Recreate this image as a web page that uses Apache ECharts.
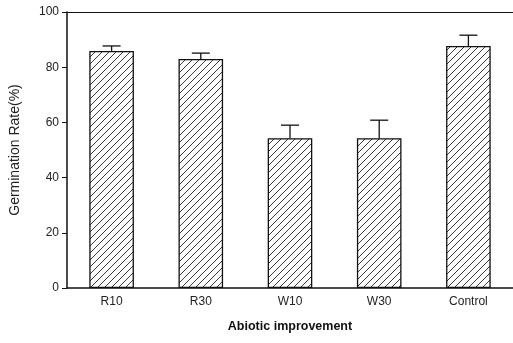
<!DOCTYPE html>
<html><head><meta charset="utf-8">
<script src="https://cdn.jsdelivr.net/npm/echarts@6/dist/echarts.min.js"></script>
<style>html,body{margin:0;padding:0;background:#fff}#c{width:513px;height:343px}</style>
</head><body><div id="c"></div>
<script>
var categories = ['R10', 'R30', 'W10', 'W30', 'Control'];
var rates = [85.9, 83.0, 54.3, 54.3, 87.7];
var errors = [1.8, 2.1, 4.7, 6.5, 3.9];
var yTicks = [0, 20, 40, 60, 80, 100];

function hatch() {
  var c = document.createElement('canvas');
  c.width = 7; c.height = 7;
  var g = c.getContext('2d');
  g.fillStyle = '#fff'; g.fillRect(0, 0, 7, 7);
  g.strokeStyle = '#222'; g.lineWidth = 0.9;
  g.beginPath();
  g.moveTo(-1, 8); g.lineTo(8, -1);
  g.moveTo(-1, 1); g.lineTo(1, -1);
  g.moveTo(6, 8); g.lineTo(8, 6);
  g.stroke();
  return c;
}

var chart = echarts.init(document.getElementById('c'));
chart.setOption({
  animation: false,
  backgroundColor: '#fff',
  grid: { left: 67, width: 449, top: 12, bottom: 55, show: false },
  xAxis: [{
    type: 'category', data: categories,
    axisLine: { lineStyle: { color: '#111', width: 1.5 } },
    axisTick: { show: false },
    axisLabel: { color: '#222', fontSize: 12, fontFamily: 'Liberation Sans', margin: 8 },
    name: 'Abiotic improvement', nameLocation: 'middle', nameGap: 32,
    nameTextStyle: { color: '#111', fontSize: 12.5, fontWeight: 'bold', fontFamily: 'Liberation Sans' }
  }, {
    type: 'category', data: categories, position: 'top',
    axisLine: { lineStyle: { color: '#111', width: 1.2 } },
    axisTick: { show: false }, axisLabel: { show: false }
  }],
  yAxis: {
    type: 'value', min: 0, max: 100, interval: 20,
    axisLine: { show: true, lineStyle: { color: '#111', width: 1.5 } },
    axisTick: { show: true, length: 5, lineStyle: { color: '#111' } },
    splitLine: { show: false },
    axisLabel: { color: '#222', fontSize: 12, fontFamily: 'Liberation Sans', margin: 8,
      formatter: function (v) { return yTicks.indexOf(v) >= 0 ? String(v) : ''; } },
    name: 'Germination Rate(%)', nameLocation: 'middle', nameGap: 45,
    nameTextStyle: { color: '#222', fontSize: 14, fontFamily: 'Liberation Sans' }
  },
  series: [
    {
      type: 'bar', data: rates, barWidth: '50%',
      itemStyle: { color: { image: hatch(), repeat: 'repeat' }, borderColor: '#111', borderWidth: 1.3 }
    },
    {
      type: 'custom',
      data: rates.map(function (v, i) { return [i, v, v + errors[i]]; }),
      renderItem: function (params, api) {
        var p0 = api.coord([api.value(0), api.value(1)]);
        var p1 = api.coord([api.value(0), api.value(2)]);
        var hw = 9;
        return {
          type: 'group',
          children: [
            { type: 'line', shape: { x1: p0[0], y1: p0[1], x2: p1[0], y2: p1[1] }, style: { stroke: '#111', lineWidth: 1.3 } },
            { type: 'line', shape: { x1: p1[0] - hw, y1: p1[1], x2: p1[0] + hw, y2: p1[1] }, style: { stroke: '#111', lineWidth: 1.3 } }
          ]
        };
      },
      z: 3
    }
  ]
});
</script></body></html>
